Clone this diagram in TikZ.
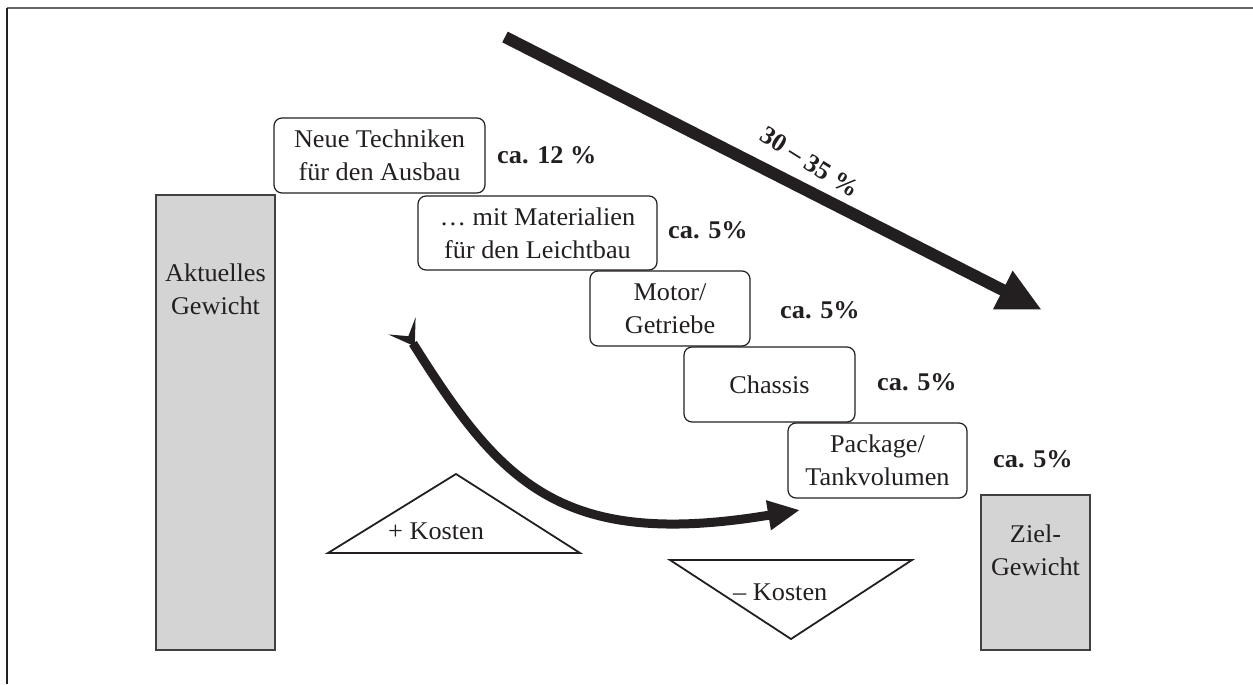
\documentclass[tikz,border=0pt]{standalone}
\usepackage{fontspec}
\setmainfont{Liberation Serif}[FakeStretch=1.03]
\usetikzlibrary{arrows.meta}
\definecolor{barfill}{HTML}{D4D4D4}
\definecolor{framegray}{HTML}{666666}
\definecolor{ink}{HTML}{231F20}
\begin{document}
\begin{tikzpicture}[x=1pt,y=-1pt,
  every node/.style={font=\fontsize{25.5}{33}\selectfont, text=ink},
  rbox/.style={draw=ink, line width=1.2pt, rounded corners=8pt, align=center, inner sep=0pt},
  bar/.style={draw=black!75, fill=barfill, line width=1.5pt, inner sep=0pt},
  txt/.style={align=center, inner sep=0pt},
  pct/.style={font=\fontsize{25.5}{33}\selectfont\bfseries, anchor=west, inner sep=0pt},
  tri/.style={draw=ink, line width=1.8pt, line join=miter},
  bigarrow/.style={draw=ink, line width=12pt, -{Triangle[length=44pt,width=40pt]}},
  curvarrow/.style={draw=ink, line width=9pt, {Stealth[reversed,length=24pt,width=32pt,inset=12pt]}-{Triangle[length=32pt,width=28pt]}}
]
\useasboundingbox (0,0) rectangle (1253,685);
% frame
\coordinate (f1) at (7,8.5);
\coordinate (f2) at (1253,8.5);
\coordinate (f3) at (7,684);
\draw[framegray, line width=2pt] (f1) -- (f2);
\draw[ink, line width=1.5pt] (f1) -- (f3);

% bars
\node[bar, minimum width=119, minimum height=455] (akt) at (215.5,422.5) {};
\node[txt] (akttxt) at (215.5,289) {Aktuelles\\Gewicht};
\node[bar, minimum width=109, minimum height=155] (ziel) at (1035.5,572.5) {};
\node[txt] (zieltxt) at (1035.5,550) {Ziel-\\Gewicht};

% boxes
\node[rbox, minimum width=211, minimum height=75] (b1) at (379.5,155.5) {Neue Techniken\\für den Ausbau};
\node[rbox, minimum width=239, minimum height=74] (b2) at (537.5,233) {… mit Materialien\\für den Leichtbau};
\node[rbox, minimum width=160, minimum height=75] (b3) at (670,308.5) {Motor/\\Getriebe};
\node[rbox, minimum width=171, minimum height=75] (b4) at (769.5,384.5) {Chassis};
\node[rbox, minimum width=179, minimum height=75] (b5) at (877.5,460.5) {Package/\\Tankvolumen};

% percentages
\node[pct] (p1) at (497,155) {ca. 12 \%};
\node[pct] (p2) at (668,230) {ca. 5\%};
\node[pct] (p3) at (780,310) {ca. 5\%};
\node[pct] (p4) at (877,382) {ca. 5\%};
\node[pct] (p5) at (993,459) {ca. 5\%};

% big arrow
\coordinate (a1) at (505,37);
\coordinate (a2) at (1042,310);
\draw[bigarrow] (a1) -- (a2);
\node[pct, anchor=center, rotate=-32] (alab) at (810,162) {30 – 35 \%};

% cost triangles
\coordinate (t1) at (328,553);
\coordinate (t2) at (456,474);
\coordinate (t3) at (580,553);
\draw[tri] (t1) -- (t2) -- (t3) -- cycle;
\node[txt, anchor=west] (plus) at (388,531) {+ Kosten};
\coordinate (u1) at (670,560);
\coordinate (u2) at (791,639);
\coordinate (u3) at (912,560);
\draw[tri] (u1) -- (u2) -- (u3) -- cycle;
\node[txt, anchor=west] (minus) at (733,592) {– Kosten};

% curved arrow
\coordinate (c1) at (402,326);
\coordinate (c2) at (800,510);
\draw[curvarrow] (c1) .. controls (500,482) and (560,550) .. (c2);
\end{tikzpicture}
\end{document}
